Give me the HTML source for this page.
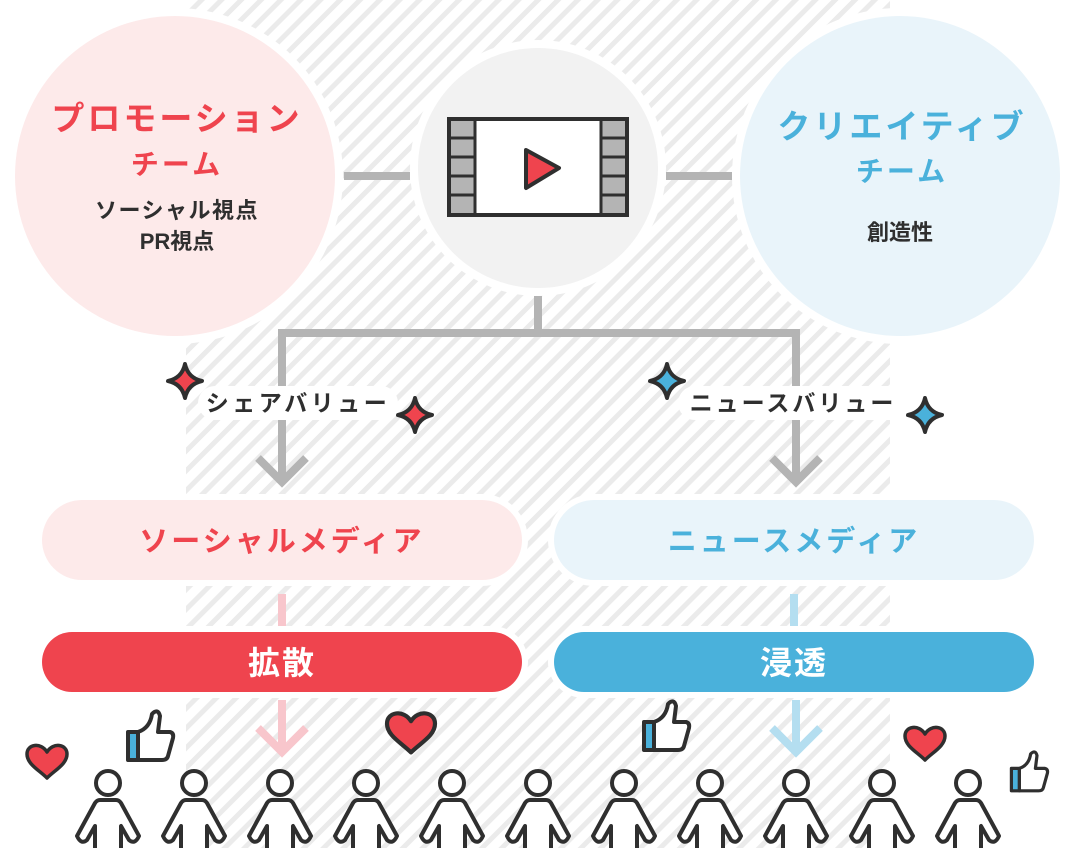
<!DOCTYPE html>
<html><head><meta charset="utf-8"><style>
html,body{margin:0;padding:0;background:#fff;}
svg{display:block;}
text{font-family:"Liberation Sans","Noto Sans CJK JP",sans-serif;font-weight:bold;}
</style></head><body>
<svg width="1076" height="848" viewBox="0 0 1076 848" xmlns="http://www.w3.org/2000/svg">
<defs>
<pattern id="h" width="14" height="14" patternUnits="userSpaceOnUse" patternTransform="rotate(45)">
<rect x="0" y="0" width="5" height="14" fill="#ebebeb"/>
</pattern>
<symbol id="sp" viewBox="-20 -20 40 40" overflow="visible">
<path d="M0,-17 Q3,-3 17,0 Q3,3 0,17 Q-3,3 -17,0 Q-3,-3 0,-17Z" stroke="#2f2f2f" stroke-width="4" stroke-linejoin="round"/>
</symbol>
<g id="person">
<circle cx="0" cy="783" r="12" fill="#fff" stroke="#2f2f2f" stroke-width="4"/>
<path d="M-13,850 L-13,826 L-21,840 Q-27,845 -31,836 L-13,803 Q-11,800 -8,800 L8,800 Q11,800 13,803 L31,836 Q27,845 21,840 L13,826 L13,850" fill="#fff" stroke="#2f2f2f" stroke-width="4" stroke-linejoin="round"/>
</g>
<g id="heart">
<path d="M0,12 C-8,4 -20,-2 -20,-12 C-20,-22 -6,-24 0,-14 C6,-24 20,-22 20,-12 C20,-2 8,4 0,12Z" fill="#ef444e" stroke="#2f2f2f" stroke-width="3.5" stroke-linejoin="round"/>
</g>
<g id="thumb">
<rect x="-22" y="-12" width="10" height="28" fill="#4ab1db" stroke="#2f2f2f" stroke-width="4" stroke-linejoin="round"/>
<path d="M-12,-12 Q0,-16 2,-30 Q8,-36 10,-28 L8,-12 L20,-12 Q24,-11 23,-6 L18,12 Q17,16 12,16 L-12,16Z" fill="#fff" stroke="#2f2f2f" stroke-width="4" stroke-linejoin="round"/>
</g>
</defs>
<rect x="186" y="0" width="704" height="848" fill="url(#h)"/>

<circle cx="175" cy="176" r="168" fill="#fff"/>
<circle cx="175" cy="176" r="160" fill="#fdeaea"/>
<circle cx="900" cy="176" r="168" fill="#fff"/>
<circle cx="900" cy="176" r="160" fill="#e9f4fa"/>
<circle cx="538" cy="168" r="128" fill="#fff"/>
<circle cx="538" cy="168" r="120" fill="#f2f2f2"/>

<g stroke="#b4b4b4" stroke-width="8" fill="none">
<path d="M344,176 H410 M666,176 H732"/>
<path d="M538,296 V333 M282,333 H796 M282,329 V482 M796,329 V482"/>
<path d="M258,458 L282,482 L306,458 M772,458 L796,482 L820,458"/>
</g>

<rect x="449" y="119" width="178" height="96" fill="#fff" stroke="#2f2f2f" stroke-width="4"/>
<g fill="#b4b4b4" stroke="#2f2f2f" stroke-width="3">
<rect x="449" y="119" width="26" height="19"/><rect x="449" y="138" width="26" height="19"/><rect x="449" y="157" width="26" height="19"/><rect x="449" y="176" width="26" height="19"/><rect x="449" y="195" width="26" height="20"/>
<rect x="601" y="119" width="26" height="19"/><rect x="601" y="138" width="26" height="19"/><rect x="601" y="157" width="26" height="19"/><rect x="601" y="176" width="26" height="19"/><rect x="601" y="195" width="26" height="20"/>
</g>
<rect x="449" y="119" width="178" height="96" fill="none" stroke="#2f2f2f" stroke-width="4"/>
<path d="M526,150 L559,168 L526,188Z" fill="#ef444e" stroke="#2f2f2f" stroke-width="4" stroke-linejoin="round"/>

<text x="177" y="130" font-size="33" fill="#ef444e" text-anchor="middle" letter-spacing="3">プロモーション</text>
<text x="177" y="174" font-size="28" fill="#ef444e" text-anchor="middle" letter-spacing="3">チーム</text>
<text x="177" y="218" font-size="22" fill="#2f2f2f" text-anchor="middle" letter-spacing="1.5">ソーシャル視点</text>
<text x="177" y="249" font-size="22" fill="#2f2f2f" text-anchor="middle">PR視点</text>
<text x="902" y="138" font-size="33" fill="#4ab1db" text-anchor="middle" letter-spacing="3">クリエイティブ</text>
<text x="902" y="181" font-size="28" fill="#4ab1db" text-anchor="middle" letter-spacing="3">チーム</text>
<text x="900" y="240" font-size="22" fill="#2f2f2f" text-anchor="middle">創造性</text>

<rect x="198" y="386" width="200" height="34" rx="17" fill="#fff"/>
<text x="298" y="411" font-size="23" fill="#2f2f2f" text-anchor="middle" letter-spacing="3.5">シェアバリュー</text>
<rect x="678" y="386" width="230" height="34" rx="17" fill="#fff"/>
<text x="793" y="411" font-size="23" fill="#2f2f2f" text-anchor="middle" letter-spacing="3">ニュースバリュー</text>
<use href="#sp" x="165" y="361" width="40" height="40" fill="#ef444e"/>
<use href="#sp" x="395" y="395" width="40" height="40" fill="#ef444e"/>
<use href="#sp" x="647" y="361" width="40" height="40" fill="#4ab1db"/>
<use href="#sp" x="905" y="395" width="40" height="40" fill="#4ab1db"/>

<rect x="36" y="494" width="492" height="92" rx="46" fill="#fff"/>
<rect x="42" y="500" width="480" height="80" rx="40" fill="#fdeaea"/>
<text x="282" y="551" font-size="29" fill="#ef444e" text-anchor="middle" letter-spacing="3">ソーシャルメディア</text>
<rect x="548" y="494" width="492" height="92" rx="46" fill="#fff"/>
<rect x="554" y="500" width="480" height="80" rx="40" fill="#e9f4fa"/>
<text x="794" y="551" font-size="29" fill="#4ab1db" text-anchor="middle" letter-spacing="3">ニュースメディア</text>

<path d="M282,594 V626" stroke="#f8c6cc" stroke-width="8"/>
<path d="M794,594 V626" stroke="#b4def0" stroke-width="8"/>

<rect x="36" y="626" width="492" height="72" rx="36" fill="#fff"/>
<rect x="42" y="632" width="480" height="60" rx="30" fill="#ef444e"/>
<text x="282" y="674" font-size="32" fill="#fff" text-anchor="middle" letter-spacing="2">拡散</text>
<rect x="548" y="626" width="492" height="72" rx="36" fill="#fff"/>
<rect x="554" y="632" width="480" height="60" rx="30" fill="#4ab1db"/>
<text x="794" y="674" font-size="32" fill="#fff" text-anchor="middle" letter-spacing="2">浸透</text>

<g stroke="#f8c6cc" stroke-width="8" fill="none"><path d="M282,700 V752 M258,728 L282,752 L306,728"/></g>
<g stroke="#b4def0" stroke-width="8" fill="none"><path d="M796,700 V752 M772,728 L796,752 L820,728"/></g>

<use href="#heart" transform="translate(47,766)"/>
<use href="#heart" transform="translate(411,738) scale(1.2)"/>
<use href="#heart" transform="translate(925,748)"/>
<use href="#thumb" transform="translate(150,744)"/>
<use href="#thumb" transform="translate(666,734)"/>
<use href="#thumb" transform="translate(1029,778) scale(0.8)"/>

<use href="#person" x="108"/><use href="#person" x="194"/><use href="#person" x="280"/><use href="#person" x="366"/><use href="#person" x="452"/><use href="#person" x="538"/><use href="#person" x="624"/><use href="#person" x="710"/><use href="#person" x="796"/><use href="#person" x="882"/><use href="#person" x="968"/>
</svg>
</body></html>
